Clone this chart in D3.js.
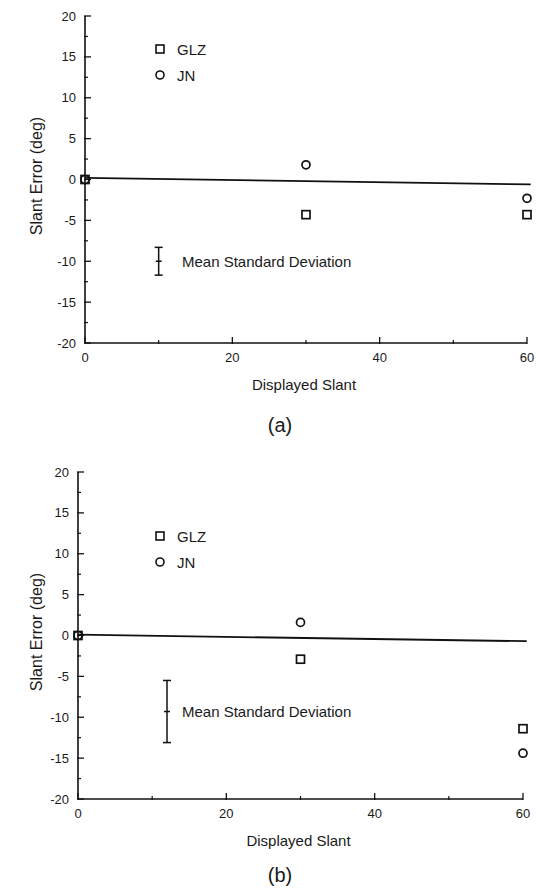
<!DOCTYPE html>
<html>
<head>
<meta charset="utf-8">
<script src="https://cdn.jsdelivr.net/npm/d3@7"></script>
<style>
  body { margin: 0; background: #fff; }
  svg text { font-family: "Liberation Sans", Arial, sans-serif; fill: #1a1a1a; }
</style>
</head>
<body>
<svg id="fig" width="536" height="891"></svg>
<script>
// Data
const slants = [0, 30, 60];
const glzA = [0, -4.3, -4.3];
const jnA = [0, 1.8, -2.3];
const fitA = [0.2, -0.6];          // fitted line at slant 0 and 60.5
const sdA = { x: 10, mean: -10, sd: 1.7 };

const glzB = [0, -2.9, -11.4];
const jnB = [0, 1.6, -14.4];
const fitB = [0.1, -0.7];
const sdB = { x: 12, mean: -9.3, sd: 3.8 };

const xTicks = [0, 20, 40, 60];
const xMinor = [10, 30, 50];
const yTicks = [20, 15, 10, 5, 0, -5, -10, -15, -20];
const yMinor = [17.5, 12.5, 7.5, 2.5, -2.5, -7.5, -12.5, -17.5];

// Set layout variables
const svg = d3.select('#fig');
const panels = [
    { tag: '(a)', glz: glzA, jn: jnA, fit: fitA, sd: sdA,
      xr: [85, 527], yr: [343, 16], legY: 49, tagY: 432, labY: 176 },
    { tag: '(b)', glz: glzB, jn: jnB, fit: fitB, sd: sdB,
      xr: [78, 523], yr: [799, 472], legY: 536, tagY: 882, labY: 632 }
];

panels.forEach(p => drawPanel(p));

function drawPanel(p) {
    let g = svg.append('g');
    let xScale = d3.scaleLinear().domain([0, 60]).range(p.xr);
    let yScale = d3.scaleLinear().domain([-20, 20]).range(p.yr);
    const x0 = p.xr[0], yb = p.yr[0];

    // axes lines
    g.append('line').attr('x1', x0).attr('x2', x0).attr('y1', p.yr[1]).attr('y2', yb)
        .style('stroke', '#111').style('stroke-width', 1.6);
    g.append('line').attr('x1', x0).attr('x2', xScale(60)).attr('y1', yb).attr('y2', yb)
        .style('stroke', '#111').style('stroke-width', 1.6);

    // y ticks
    g.selectAll('.ytick').data(yTicks).join('line')
        .attr('x1', x0 - 1).attr('x2', x0 + 6)
        .attr('y1', d => yScale(d)).attr('y2', d => yScale(d))
        .style('stroke', '#111').style('stroke-width', 1.3);
    g.selectAll('.yminor').data(yMinor).join('line')
        .attr('x1', x0 - 1).attr('x2', x0 + 3)
        .attr('y1', d => yScale(d)).attr('y2', d => yScale(d))
        .style('stroke', '#111').style('stroke-width', 1.2);
    g.selectAll('.ylab').data(yTicks).join('text')
        .attr('x', x0 - 9).attr('y', d => yScale(d))
        .attr('text-anchor', 'end').attr('dominant-baseline', 'central')
        .style('font-size', '13px')
        .text(d => d < 0 ? '-' + Math.abs(d) : d);

    // x ticks
    g.selectAll('.xtick').data(xTicks).join('line')
        .attr('x1', d => xScale(d)).attr('x2', d => xScale(d))
        .attr('y1', yb + 1).attr('y2', yb - 6)
        .style('stroke', '#111').style('stroke-width', 1.3);
    g.selectAll('.xminor').data(xMinor).join('line')
        .attr('x1', d => xScale(d)).attr('x2', d => xScale(d))
        .attr('y1', yb + 1).attr('y2', yb - 3)
        .style('stroke', '#111').style('stroke-width', 1.2);
    g.selectAll('.xlab').data(xTicks).join('text')
        .attr('x', d => xScale(d)).attr('y', yb + 19)
        .attr('text-anchor', 'middle')
        .style('font-size', '13px')
        .text(d => d);

    // axis titles
    g.append('text')
        .attr('x', (p.xr[0] + p.xr[1]) / 2 - 2).attr('y', yb + 47)
        .attr('text-anchor', 'middle').style('font-size', '15px')
        .text('Displayed Slant');
    g.append('text')
        .attr('transform', `translate(42,${p.labY}) rotate(-90)`)
        .attr('text-anchor', 'middle').style('font-size', '16px')
        .text('Slant Error (deg)');
    g.append('text')
        .attr('x', 280).attr('y', p.tagY)
        .attr('text-anchor', 'middle').style('font-size', '20px')
        .text(p.tag);

    // fitted line
    g.append('line')
        .attr('x1', xScale(0)).attr('y1', yScale(p.fit[0]))
        .attr('x2', xScale(60.5)).attr('y2', yScale(p.fit[1]))
        .style('stroke', '#111').style('stroke-width', 1.8);

    // points
    const s = 8;
    g.selectAll('.sq').data(slants).join('rect')
        .attr('x', (d) => xScale(d) - s / 2)
        .attr('y', (d, i) => yScale(p.glz[i]) - s / 2)
        .attr('width', s).attr('height', s)
        .style('fill', 'none').style('stroke', '#111').style('stroke-width', 1.7);
    g.selectAll('.ci').data(slants).join('circle')
        .attr('cx', d => xScale(d))
        .attr('cy', (d, i) => yScale(p.jn[i]))
        .attr('r', 4)
        .style('fill', 'none').style('stroke', '#111').style('stroke-width', 1.7);

    // legend
    const lx = 160;
    g.append('rect').attr('x', lx - 4).attr('y', p.legY - 4).attr('width', s).attr('height', s)
        .style('fill', 'none').style('stroke', '#111').style('stroke-width', 1.6);
    g.append('circle').attr('cx', lx).attr('cy', p.legY + 26).attr('r', 4)
        .style('fill', 'none').style('stroke', '#111').style('stroke-width', 1.6);
    g.append('text').attr('x', lx + 17).attr('y', p.legY).attr('dominant-baseline', 'central')
        .style('font-size', '15px').text('GLZ');
    g.append('text').attr('x', lx + 17).attr('y', p.legY + 26).attr('dominant-baseline', 'central')
        .style('font-size', '15px').text('JN');

    // mean standard deviation bar
    const ex = xScale(p.sd.x);
    const top = yScale(p.sd.mean + p.sd.sd), bot = yScale(p.sd.mean - p.sd.sd);
    const eb = g.append('g').style('stroke', '#111').style('stroke-width', 1.5);
    eb.append('line').attr('x1', ex).attr('x2', ex).attr('y1', top).attr('y2', bot);
    eb.append('line').attr('x1', ex - 4).attr('x2', ex + 4).attr('y1', top).attr('y2', top);
    eb.append('line').attr('x1', ex - 4).attr('x2', ex + 4).attr('y1', bot).attr('y2', bot);
    eb.append('line').attr('x1', ex - 3).attr('x2', ex + 3)
        .attr('y1', yScale(p.sd.mean)).attr('y2', yScale(p.sd.mean));
    g.append('text').attr('x', 182).attr('y', yScale(p.sd.mean))
        .attr('dominant-baseline', 'central').style('font-size', '15px')
        .text('Mean Standard Deviation');
}
</script>
</body>
</html>
